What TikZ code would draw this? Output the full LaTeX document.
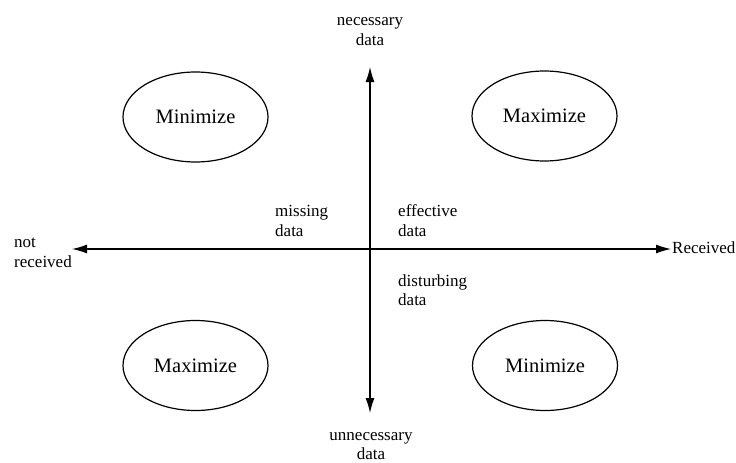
\documentclass[tikz,border=0pt]{standalone}
\usepackage{fontspec}
\setmainfont{Liberation Serif}
\usetikzlibrary{arrows.meta,shapes.geometric}

\begin{document}
\begin{tikzpicture}[x=1pt,y=-1pt,
    goal/.style={ellipse,draw,line width=1.2pt,minimum width=145pt,minimum height=90pt,
      inner sep=0pt,font=\fontsize{20.5}{24}\selectfont},
    lbl/.style={inner sep=0pt,align=left,font=\fontsize{17}{19.5}\selectfont},
    clbl/.style={inner sep=0pt,align=center,font=\fontsize{17}{19.5}\selectfont},
    axis/.style={line width=1.2pt,{Latex[length=15pt,width=9pt]}-{Latex[length=15pt,width=9pt]}}]
  \useasboundingbox (0,0) rectangle (736,463);

  % axis end points
  \coordinate (west) at (72,249);
  \coordinate (east) at (671,249);
  \coordinate (north) at (370,67);
  \coordinate (south) at (370,413);

  \draw[axis] (west) -- (east);
  \draw[axis] (north) -- (south);

  % quadrant goals
  \node[goal] (tl) at (195.5,117) {Minimize};
  \node[goal] (tr) at (544.5,116) {Maximize};
  \node[goal] (bl) at (195.5,365.5) {Maximize};
  \node[goal] (br) at (545,365.5) {Minimize};

  % axis labels (base anchor = baseline of the last line)
  \node[clbl,anchor=base] (nec) at (370,45) {necessary\\data};
  \node[clbl,anchor=base] (unnec) at (371,459.5) {unnecessary\\data};
  \node[lbl,anchor=base west] (notrec) at (14,267) {not\\received};
  \node[lbl,anchor=base west] (rec) at (672,253) {Received};

  % quadrant labels near the origin
  \node[lbl,anchor=base west] (miss) at (275,236) {missing\\data};
  \node[lbl,anchor=base west] (eff) at (398,236) {effective\\data};
  \node[lbl,anchor=base west] (dist) at (398,305.5) {disturbing\\data};
\end{tikzpicture}
\end{document}
